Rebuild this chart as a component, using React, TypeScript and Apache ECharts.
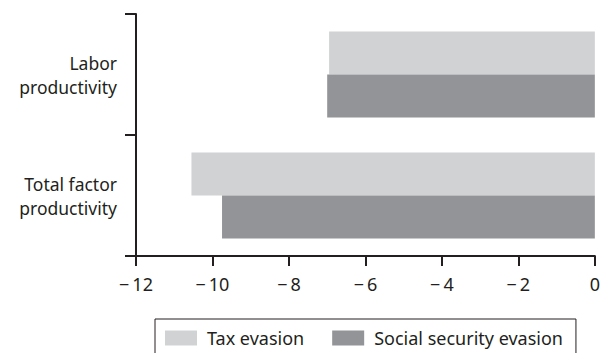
import React, { useEffect, useRef } from "react";
import * as echarts from "echarts";

const categories = ["Labor\nproductivity", "Total factor\nproductivity"];
const seriesNames = ["Tax evasion", "Social security evasion"];
const taxEvasion = [-6.95, -10.55];
const socialSecurityEvasion = [-7.0, -9.75];
const xTicks = [-12, -10, -8, -6, -4, -2, 0];

const FONT = "'Noto Sans', 'Open Sans', sans-serif";
const INK = "#231f20";
const FS = 18;

export default function App() {
  const ref = useRef<HTMLDivElement>(null);
  useEffect(() => {
    if (!ref.current) return;
    const chart = echarts.init(ref.current, undefined, { renderer: "svg" });
    chart.setOption({
      animation: false,
      textStyle: { fontFamily: FONT, color: INK },
      grid: { left: 136, right: 7, top: 14, bottom: 97, containLabel: false },
      legend: {
        data: seriesNames,
        left: 155,
        top: 319,
        orient: "horizontal",
        itemWidth: 32,
        itemHeight: 15,
        itemGap: 28,
        padding: [10, 13, 30, 10],
        borderColor: INK,
        borderWidth: 1,
        icon: "rect",
        textStyle: { fontFamily: FONT, fontSize: FS, color: INK, padding: [0, 0, 0, 5] },
      },
      xAxis: {
        type: "value",
        min: xTicks[0],
        max: xTicks[xTicks.length - 1],
        interval: 2,
        axisLine: { show: true, lineStyle: { color: INK, width: 2 } },
        axisTick: { show: true, length: 10, lineStyle: { color: INK, width: 2 } },
        splitLine: { show: false },
        axisLabel: {
          margin: 19,
          fontFamily: FONT,
          fontSize: FS,
          color: INK,
          formatter: (v: number) => (v < 0 ? "\u2212\u2009" + Math.abs(v) : String(v)),
        },
      },
      yAxis: {
        type: "category",
        data: categories,
        inverse: true,
        axisLine: { show: true, onZero: false, lineStyle: { color: INK, width: 2 } },
        axisTick: { show: true, length: 11, lineStyle: { color: INK, width: 2 } },
        axisLabel: {
          margin: 19,
          fontFamily: FONT,
          fontSize: 17.5,
          color: INK,
          lineHeight: 24,
          align: "right",
        },
      },
      series: [
        {
          name: seriesNames[0],
          type: "bar",
          data: taxEvasion,
          itemStyle: { color: "#d1d2d4" },
          barGap: "0%",
          barCategoryGap: "29%",
        },
        {
          name: seriesNames[1],
          type: "bar",
          data: socialSecurityEvasion,
          itemStyle: { color: "#929497" },
          barGap: "0%",
          barCategoryGap: "29%",
        },
      ],
    });
    return () => chart.dispose();
  }, []);
  return <div ref={ref} style={{ width: 603, height: 353, position: "absolute", left: 0, top: 0 }} />;
}
